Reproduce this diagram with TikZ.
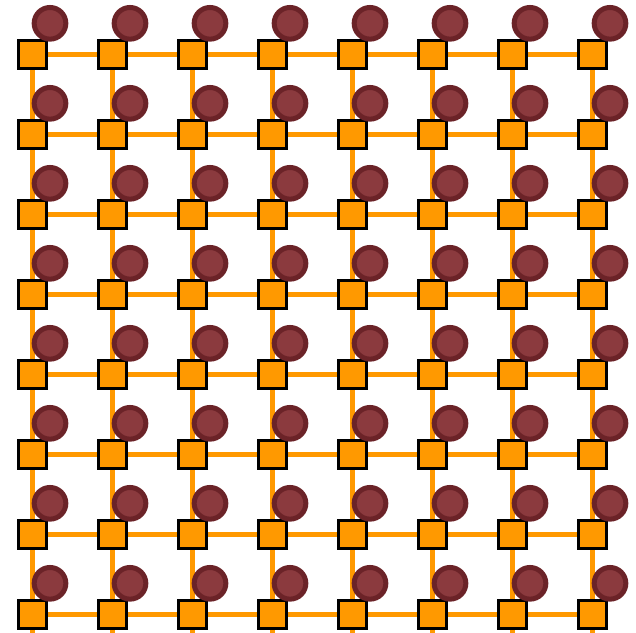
\documentclass[tikz,border=0pt]{standalone}
\usetikzlibrary{backgrounds}
\definecolor{LAT-ORANGE}{RGB}{255, 153, 0}
\definecolor{SITE-RED}{RGB}{139, 58, 62}
\definecolor{SITE-DARK}{RGB}{107, 35, 40}

\begin{document}
\begin{tikzpicture}[x=0.03cm, y=-0.03cm,
    cell/.style={draw=black, fill=LAT-ORANGE, line width=0.09cm,
      minimum size=0.84cm, inner sep=0pt},
    site/.style={circle, draw=SITE-DARK, fill=SITE-RED, line width=0.15cm,
      minimum size=0.95cm, inner sep=0pt},
    bond/.style={LAT-ORANGE, line width=0.15cm}]
  \useasboundingbox (0,0) rectangle (636,632);

  % Lattice cells (squares)
  \foreach \i in {0,...,7} {
    \foreach \j in {0,...,7} {
      \node[cell] (s-\i-\j) at ({32.5+80*\i},{54+80*\j}) {};
    }
    \coordinate (e-\i) at ({32.5+80*\i},640);
  }

  % Sites (circles), on top
  \foreach \i in {0,...,7} {
    \foreach \j in {0,...,7} {
      \node[site] (c-\i-\j) at ({50+80*\i},{23.3+80*\j}) {};
    }
  }

  % Bonds behind everything
  \begin{scope}[on background layer]
    \foreach \i [count=\k] in {0,...,6} {
      \foreach \j in {0,...,7} {
        \draw[bond] (s-\i-\j) -- (s-\k-\j);
        \draw[bond] (s-\j-\i) -- (s-\j-\k);
      }
    }
    \foreach \i in {0,...,7}
      \draw[bond] (s-\i-7) -- (e-\i);
  \end{scope}
\end{tikzpicture}
\end{document}
